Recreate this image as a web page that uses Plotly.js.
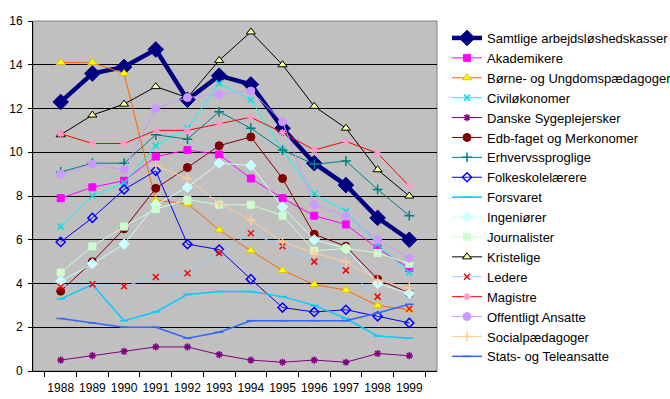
<!DOCTYPE html>
<html>
<head>
<meta charset="utf-8">
<script src="https://cdn.plot.ly/plotly-3.0.1.min.js"></script>
<style>html,body{margin:0;padding:0;background:#fff;}#chart{width:670px;height:399px;}</style>
</head>
<body>
<div id="chart"></div>
<script>
const years = ["1988","1989","1990","1991","1992","1993","1994","1995","1996","1997","1998","1999"];

const samtlige      = [12.3, 13.6, 13.9, 14.7, 12.4, 13.5, 13.1, 11.1, 9.5, 8.5, 7.0, 6.0];
const akademikere   = [7.9, 8.4, 8.7, 9.8, 10.1, 9.9, 8.8, 7.9, 7.1, 6.7, 5.6, 4.7];
const boerne        = [14.1, 14.1, 13.6, 7.8, 7.65, 6.45, 5.5, 4.6, 3.95, 3.7, 3.0, 2.8];
const civiloekonomer= [6.6, 8.0, 8.6, 10.3, 11.1, 13.15, 12.4, 10.1, 8.1, 7.3, 5.8, 4.5];
const sygeplejersker= [0.5, 0.7, 0.9, 1.1, 1.1, 0.75, 0.5, 0.4, 0.5, 0.4, 0.8, 0.7];
const edb           = [3.65, 5.0, 6.5, 8.35, 9.3, 10.3, 10.7, 8.8, 6.25, 5.7, 4.2, 3.55];
const erhvervssprog = [9.1, 9.5, 9.5, 10.8, 10.6, 11.85, 11.1, 10.1, 9.45, 9.6, 8.3, 7.1];
const folkeskole    = [5.9, 7.0, 8.3, 9.15, 5.8, 5.55, 4.2, 2.9, 2.7, 2.8, 2.5, 2.2];
const forsvaret     = [3.3, 3.95, 2.3, 2.7, 3.5, 3.63, 3.63, 3.4, 3.0, 2.4, 1.6, 1.5];
const ingenioerer   = [4.1, 4.9, 5.8, 7.6, 8.4, 9.5, 9.4, 7.5, 6.0, 5.6, 4.0, 3.55];
const journalister  = [4.5, 5.7, 6.6, 7.4, 7.83, 7.6, 7.6, 7.1, 5.5, 5.6, 5.4, 4.9];
const kristelige    = [10.8, 11.7, 12.2, 13.0, 12.5, 14.2, 15.5, 14.0, 12.1, 11.1, 9.2, 8.0];
const ledere        = [3.85, 3.97, 3.87, 4.3, 4.47, 5.4, 6.3, 5.7, 5.0, 4.6, 3.4, 2.85];
const magistre      = [10.85, 10.4, 10.4, 11.0, 11.0, 11.3, 11.6, 10.9, 10.1, 10.5, 9.95, 8.45];
const offentligt    = [9.0, 9.45, 9.2, 12.0, 12.5, 12.65, 12.8, 11.4, 7.6, 7.1, 6.0, 5.15];
const socialpaed    = [null, null, null, 9.4, 8.8, 7.66, 6.9, 5.9, 5.4, 5.0, 4.15, 3.8];
const stats         = [2.4, 2.2, 2.0, 2.0, 1.5, 1.77, 2.3, 2.3, 2.3, 2.3, 2.65, 3.05];

const names = ["Samtlige arbejdsløshedskasser","Akademikere","Børne- og Ungdomspædagoger","Civiløkonomer","Danske Sygeplejersker","Edb-faget og Merkonomer","Erhvervssproglige","Folkeskolelærere","Forsvaret","Ingeniører","Journalister","Kristelige","Ledere","Magistre","Offentligt Ansatte","Socialpædagoger","Stats- og Teleansatte"];
const series = [samtlige, akademikere, boerne, civiloekonomer, sygeplejersker, edb, erhvervssprog, folkeskole, forsvaret, ingenioerer, journalister, kristelige, ledere, magistre, offentligt, socialpaed, stats];

const styles = [
  {lc:"#000080", lw:4.5, sym:"diamond", mc:"#000080", ms:12, ml:"#000080"},
  {lc:"#FF00FF", lw:1, sym:"square", mc:"#FF00FF", ms:7, ml:"#FF00FF"},
  {lc:"#FF6600", lw:1, sym:"triangle-up", mc:"#FFFF00", ms:8, ml:"#E0C000"},
  {lc:"#00FFFF", lw:1, sym:"x-thin", mc:"#00FFFF", ms:6, ml:"#00E0E0"},
  {lc:"#800080", lw:1, sym:"asterisk", mc:"#800080", ms:6, ml:"#800080"},
  {lc:"#800000", lw:1, sym:"circle", mc:"#800000", ms:8, ml:"#800000"},
  {lc:"#008080", lw:1, sym:"cross-thin", mc:"#008080", ms:7, ml:"#008080"},
  {lc:"#0000FF", lw:1, sym:"diamond-open", mc:"#0000FF", ms:7, ml:"#0000FF"},
  {lc:"#00CCFF", lw:1.5, sym:"line-ew", mc:"#00CCFF", ms:6, ml:"#00CCFF"},
  {lc:"#CCFFFF", lw:1, sym:"diamond", mc:"#CCFFFF", ms:8, ml:"#CCFFFF"},
  {lc:"#CCFFCC", lw:1, sym:"square", mc:"#CCFFCC", ms:7, ml:"#CCFFCC"},
  {lc:"#000000", lw:1, sym:"triangle-up", mc:"#FFFF99", ms:8, ml:"#000000"},
  {lc:"#99CCFF", lw:1, sym:"x-thin", mc:"#FF0000", ms:6, ml:"#FF0000"},
  {lc:"#FF0000", lw:1, sym:"asterisk", mc:"#FF99CC", ms:6, ml:"#FF99CC"},
  {lc:"#CC99FF", lw:1, sym:"circle", mc:"#CC99FF", ms:8, ml:"#CC99FF"},
  {lc:"#FFCC99", lw:1, sym:"cross-thin", mc:"#FFCC99", ms:7, ml:"#FFCC99"},
  {lc:"#3366FF", lw:1.5, sym:"line-ew", mc:"#3366FF", ms:6, ml:"#3366FF"}
];

const traces = series.map((ys, i) => {
  const s = styles[i];
  const thin = (s.sym.indexOf("thin")>=0||s.sym==="asterisk"||s.sym==="line-ew"||s.sym==="diamond-open");
  return {
    x: years, y: ys, name: names[i], type: "scatter", mode: "lines+markers",
    line: {color: s.lc, width: s.lw},
    marker: {symbol: s.sym, color: s.mc, size: s.ms, line: {color: s.ml, width: thin ? 1.5 : 1}},
    connectgaps: false
  };
});

const layout = {
  width: 670, height: 399,
  margin: {l: 33, r: 233, t: 21, b: 28, pad: 0, autoexpand: false},
  paper_bgcolor: "#FFFFFF",
  plot_bgcolor: "#C0C0C0",
  font: {family: "Liberation Sans, Arial, sans-serif", size: 12, color: "#000"},
  showlegend: true,
  legend: {
    xref: "container", yref: "container",
    x: 447/670, xanchor: "left", y: 1 - 23/399, yanchor: "top",
    maxheight: 390,
    font: {family: "Liberation Sans, Arial, sans-serif", size: 13, color: "#000"},
    bgcolor: "rgba(0,0,0,0)", borderwidth: 0, tracegroupgap: 0, itemwidth: 30
  },
  xaxis: {
    type: "category", tickson: "boundaries", ticks: "outside", ticklen: 5, tickcolor: "#000",
    showline: true, linecolor: "#000", linewidth: 1, showgrid: false, zeroline: false,
    tickangle: 0, tickfont: {size: 12}, ticklabelstandoff: 6, fixedrange: true, automargin: false
  },
  yaxis: {
    range: [0, 16], dtick: 2, ticks: "outside", ticklen: 4, tickcolor: "#000",
    showline: true, linecolor: "#000", linewidth: 1, showgrid: true, gridcolor: "#000", gridwidth: 1,
    zeroline: false, tickfont: {size: 12}, ticklabelstandoff: 3, fixedrange: true, automargin: false
  },
  shapes: [
    {type: "rect", xref: "paper", yref: "paper", x0: 0, x1: 1, y0: 0, y1: 1, line: {color: "#808080", width: 1}, layer: "below"}
  ]
};

Plotly.newPlot("chart", traces, layout, {displayModeBar: false, staticPlot: true});
</script>
</body>
</html>
